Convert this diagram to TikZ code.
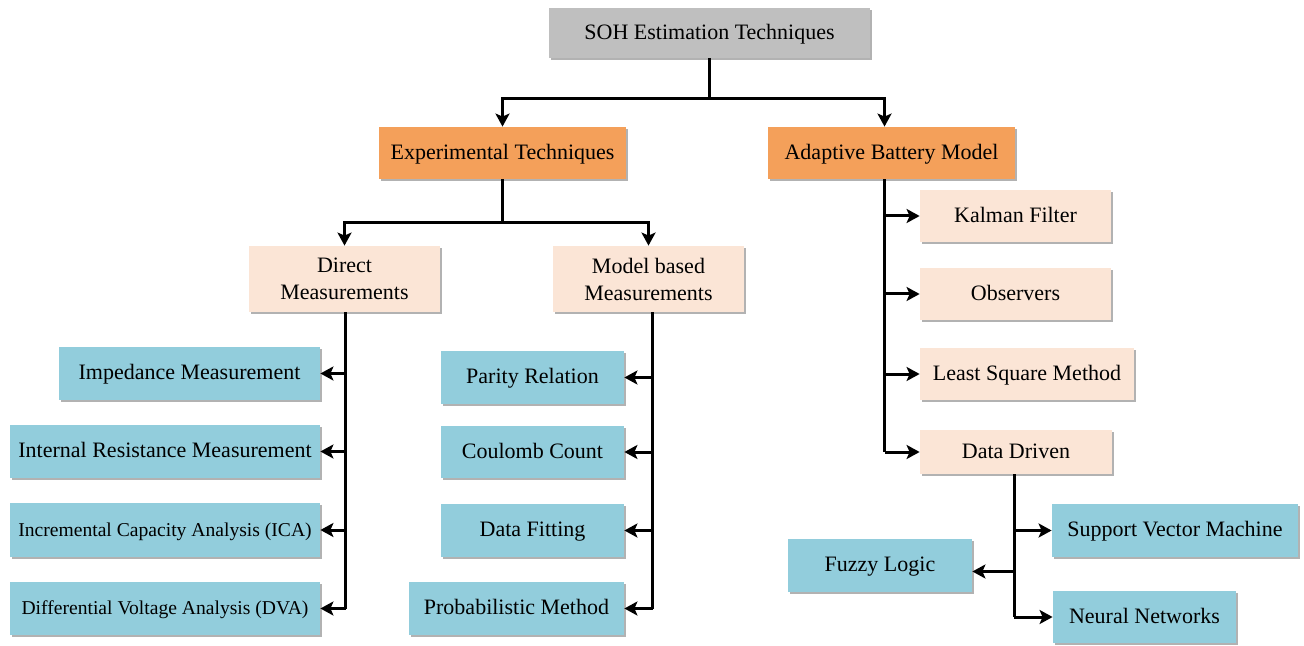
\documentclass[tikz,border=0pt]{standalone}
\usepackage{fontspec}
\setmainfont{Liberation Serif}
\usetikzlibrary{arrows.meta,shadows}
\definecolor{cgray}{RGB}{191,191,191}
\definecolor{corange}{RGB}{244,160,90}
\definecolor{cpeach}{RGB}{251,229,214}
\definecolor{cblue}{RGB}{146,205,220}
\tikzset{
  box/.style={draw=none, inner sep=0pt, align=center, text=black,
    font=\fontsize{11}{13.5}\selectfont,
    drop shadow={shadow xshift=1pt, shadow yshift=-1pt, fill=black, opacity=0.3}},
  one/.style={text height=1.6ex, text depth=0.2ex},
  gbox/.style={box, one, fill=cgray},
  obox/.style={box, one, fill=corange},
  pbox/.style={box, fill=cpeach},
  bbox/.style={box, one, fill=cblue},
  small/.style={font=\fontsize{9.8}{12}\selectfont},
  conn/.style={line width=1.5pt, line join=miter, black},
  arr/.style={conn, -{Stealth[length=6.5pt, width=7pt, inset=1.5pt]}},
}
\begin{document}
\begin{tikzpicture}[x=0.5pt, y=-0.5pt]
\useasboundingbox (0,0) rectangle (1304,646);
% top
\node[gbox, minimum width=160.5pt, minimum height=25pt] (soh) at (709.5,33) {SOH Estimation Techniques};
\node[obox, minimum width=123.5pt, minimum height=26pt] (exp) at (502.5,153) {Experimental Techniques};
\node[obox, minimum width=123.5pt, minimum height=26pt] (ada) at (891.5,153) {Adaptive Battery Model};
% second level
\node[pbox, minimum width=95.5pt, minimum height=33pt] (dir) at (344.5,279) {Direct\\Measurements};
\node[pbox, minimum width=95.5pt, minimum height=33pt] (mod) at (648.5,279) {Model based\\Measurements};
% direct leaves
\node[bbox, minimum width=130.5pt, minimum height=26.5pt] (imp) at (189.5,373.5) {Impedance Measurement};
\node[bbox, minimum width=155pt, minimum height=26.5pt] (irm) at (165,451.5) {Internal Resistance Measurement};
\node[bbox, small, minimum width=155pt, minimum height=27pt] (ica) at (165,530) {Incremental Capacity Analysis (ICA)};
\node[bbox, small, minimum width=155pt, minimum height=26.5pt] (dva) at (165,608.5) {Differential Voltage Analysis (DVA)};
% model leaves
\node[bbox, minimum width=91.5pt, minimum height=26.5pt] (par) at (532.5,377.5) {Parity Relation};
\node[bbox, minimum width=91.5pt, minimum height=26pt] (cou) at (532.5,452) {Coulomb Count};
\node[bbox, minimum width=91.5pt, minimum height=26.5pt] (fit) at (532.5,530.5) {Data Fitting};
\node[bbox, minimum width=107.5pt, minimum height=26.5pt] (pro) at (516.5,608.5) {Probabilistic Method};
% adaptive leaves
\node[pbox, one, minimum width=95.5pt, minimum height=26pt] (kal) at (1015.5,216) {Kalman Filter};
\node[pbox, one, minimum width=95.5pt, minimum height=26pt] (obs) at (1015.5,294) {Observers};
\node[pbox, one, minimum width=107pt, minimum height=26pt] (lsm) at (1027,374) {Least Square Method};
\node[pbox, one, minimum width=96pt, minimum height=22pt] (dd) at (1016,452) {Data Driven};
% data driven leaves
\node[bbox, minimum width=123pt, minimum height=26.5pt] (svm) at (1175,530.5) {Support Vector Machine};
\node[bbox, minimum width=92pt, minimum height=26.5pt] (fuz) at (880,565.5) {Fuzzy Logic};
\node[bbox, minimum width=91.5pt, minimum height=26pt] (nn) at (1144.5,617) {Neural Networks};
% connectors: top
\coordinate (j1) at ([yshift=-20pt]soh.south);
\draw[conn] (soh.south) -- (j1);
\draw[arr] (j1) -| (exp.north);
\draw[arr] (j1) -| ([xshift=-3.5pt]ada.north);
% experimental
\coordinate (j2) at ([yshift=-21.5pt]exp.south);
\draw[conn] (exp.south) -- (j2);
\draw[arr] (j2) -| (dir.north);
\draw[arr] (j2) -| (mod.north);
% direct trunk
\coordinate (dt) at ([xshift=0.5pt]dir.south);
\draw[conn] (dt) -- (dt |- dva.east);
\foreach \n in {imp,irm,ica,dva} \draw[arr] (dt |- \n.east) -- (\n.east);
% model trunk
\coordinate (mt) at ([xshift=2pt]mod.south);
\draw[conn] (mt) -- (mt |- pro.east);
\foreach \n in {par,cou,fit,pro} \draw[arr] (mt |- \n.east) -- (\n.east);
% adaptive trunk
\coordinate (at) at ([xshift=-3.5pt]ada.south);
\draw[conn] (at) -- (at |- dd.west);
\foreach \n in {kal,obs,lsm,dd} \draw[arr] (at |- \n.west) -- (\n.west);
% data driven trunk
\coordinate (dt2) at ([xshift=-1pt]dd.south);
\draw[conn] (dt2) -- (dt2 |- nn.west);
\draw[arr] (dt2 |- svm.west) -- (svm.west);
\draw[arr] (dt2 |- nn.west) -- (nn.west);
\draw[arr] ([yshift=-3pt]dt2 |- fuz.east) -- ([yshift=-3pt]fuz.east);
\end{tikzpicture}
\end{document}
